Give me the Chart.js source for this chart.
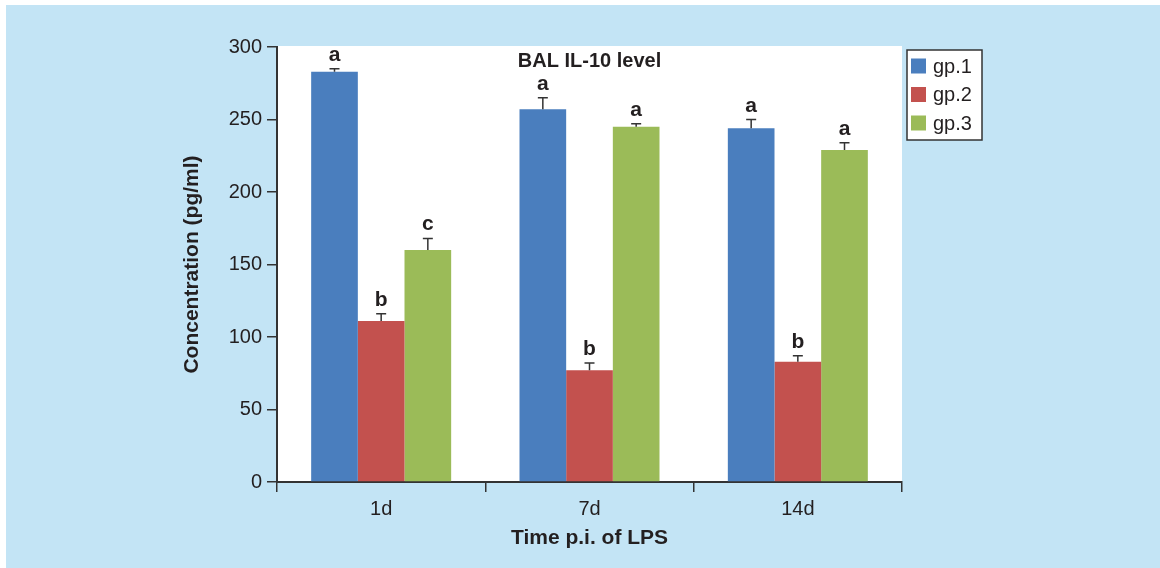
<!DOCTYPE html>
<html>
<head>
<meta charset="utf-8">
<script src="https://cdn.jsdelivr.net/npm/chart.js@4.4.0/dist/chart.umd.min.js"></script>
<style>
  html, body { margin: 0; padding: 0; background: #fff; }
  #wrap { width: 1160px; height: 568px; position: relative; }
</style>
</head>
<body>
<div id="wrap"><canvas id="il10Chart" width="1160" height="568"></canvas></div>
<script>
const categories = ["1d", "7d", "14d"];
const groupLabels = ["gp.1", "gp.2", "gp.3"];
const gp1Values = [283, 257, 244];
const gp2Values = [111, 77, 83];
const gp3Values = [160, 245, 229];
const gp1Errors = [2, 8, 6];
const gp2Errors = [5, 5, 4];
const gp3Errors = [8, 2, 5];
const gp1Letters = ["a", "a", "a"];
const gp2Letters = ["b", "b", "b"];
const gp3Letters = ["c", "a", "a"];

const textColor = "#231f20";
const axisColor = "#333333";
const fontFamily = "'Liberation Sans', Arial, Helvetica, sans-serif";

// blue panel, white plot area
const backdrop = {
  id: "backdrop",
  beforeDraw(chart) {
    const { ctx, chartArea: a } = chart;
    ctx.save();
    ctx.fillStyle = "#ffffff";
    ctx.fillRect(0, 0, chart.width, chart.height);
    ctx.fillStyle = "#c3e4f5";
    ctx.fillRect(6, 5, chart.width - 6, chart.height - 5);
    ctx.fillStyle = "#ffffff";
    ctx.fillRect(a.left, a.top - 1, a.right - a.left, a.bottom - a.top + 1);
    ctx.restore();
  }
};

// error bars, significance letters, title, legend box
const extras = {
  id: "extras",
  afterDatasetsDraw(chart) {
    const { ctx, chartArea: a } = chart;
    const yScale = chart.scales.y;
    ctx.save();
    chart.data.datasets.forEach((ds, i) => {
      const meta = chart.getDatasetMeta(i);
      meta.data.forEach((bar, j) => {
        const top = yScale.getPixelForValue(ds.data[j] + ds.errors[j]);
        ctx.strokeStyle = axisColor;
        ctx.lineWidth = 1.5;
        ctx.beginPath();
        ctx.moveTo(bar.x, bar.y);
        ctx.lineTo(bar.x, top);
        ctx.moveTo(bar.x - 5, top);
        ctx.lineTo(bar.x + 5, top);
        ctx.stroke();
        ctx.fillStyle = textColor;
        ctx.font = "bold 21px " + fontFamily;
        ctx.textAlign = "center";
        ctx.textBaseline = "alphabetic";
        ctx.fillText(ds.letters[j], bar.x, top - 8);
      });
    });

    ctx.font = "bold 20px " + fontFamily;
    ctx.fillStyle = textColor;
    ctx.textAlign = "center";
    ctx.fillText("BAL IL-10 level", (a.left + a.right) / 2, a.top + 20);

    const lx = a.right + 5, ly = a.top + 3;
    ctx.fillStyle = "#ffffff";
    ctx.fillRect(lx, ly, 75, 90);
    ctx.strokeStyle = axisColor;
    ctx.lineWidth = 1.5;
    ctx.strokeRect(lx, ly, 75, 90);
    chart.data.datasets.forEach((ds, i) => {
      const cy = ly + 16 + i * 28.5;
      ctx.fillStyle = ds.backgroundColor;
      ctx.fillRect(lx + 4, cy - 7.5, 15, 15);
      ctx.fillStyle = textColor;
      ctx.font = "20px " + fontFamily;
      ctx.textAlign = "left";
      ctx.textBaseline = "middle";
      ctx.fillText(ds.label, lx + 26, cy + 1);
    });
    ctx.restore();
  }
};

new Chart(document.getElementById("il10Chart"), {
  type: "bar",
  data: {
    labels: categories,
    datasets: [
      { label: groupLabels[0], data: gp1Values, errors: gp1Errors, letters: gp1Letters, backgroundColor: "#4a7ebe" },
      { label: groupLabels[1], data: gp2Values, errors: gp2Errors, letters: gp2Letters, backgroundColor: "#c3514e" },
      { label: groupLabels[2], data: gp3Values, errors: gp3Errors, letters: gp3Letters, backgroundColor: "#9bbb58" }
    ]
  },
  options: {
    responsive: false,
    animation: false,
    devicePixelRatio: 1,
    categoryPercentage: 0.672,
    barPercentage: 1,
    layout: { padding: { top: 47, right: 258, bottom: 0, left: 0 } },
    plugins: { legend: { display: false }, tooltip: { enabled: false } },
    scales: {
      x: {
        afterFit: (scale) => { scale.height = 86; },
        grid: { offset: true, drawOnChartArea: false, tickLength: 10, color: axisColor, lineWidth: 1.5 },
        border: { color: axisColor, width: 2 },
        ticks: { color: textColor, padding: 5, font: { family: fontFamily, size: 20 } },
        title: {
          display: true, text: "Time p.i. of LPS", color: textColor,
          padding: { top: 0, bottom: 17 },
          font: { family: fontFamily, size: 21, weight: "bold" }
        }
      },
      y: {
        min: 0, max: 300,
        afterFit: (scale) => { scale.width = 277; },
        grid: { drawOnChartArea: false, tickLength: 10, color: axisColor, lineWidth: 1.5 },
        border: { color: axisColor, width: 2 },
        ticks: { stepSize: 50, color: textColor, padding: 5, font: { family: fontFamily, size: 20 } },
        title: {
          display: true, text: "Concentration (pg/ml)", color: textColor,
          padding: { top: 180, bottom: 0 },
          font: { family: fontFamily, size: 21, weight: "bold" }
        }
      }
    }
  },
  plugins: [backdrop, extras]
});
</script>
</body>
</html>
